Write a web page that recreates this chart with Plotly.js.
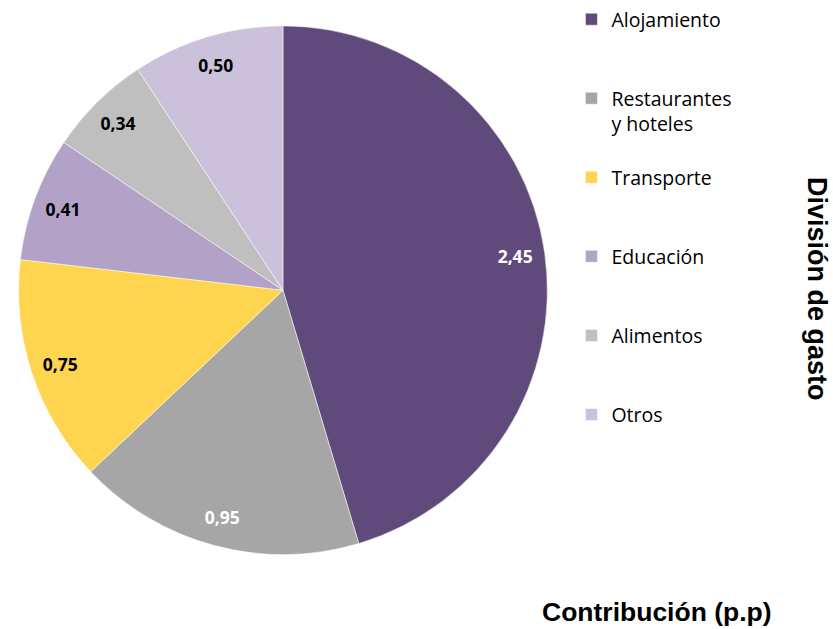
<!DOCTYPE html>
<html><head><meta charset="utf-8">
<script src="https://cdn.plot.ly/plotly-3.0.1.min.js"></script>
<style>html,body{margin:0;padding:0;background:#fff}#chart{width:833px;height:629px}</style>
</head><body><div id="chart"></div>
<script>
const categories = ["Alojamiento", "Restaurantes<br>y hoteles", "Transporte", "Educación", "Alimentos", "Otros"];
const values = [2.45, 0.95, 0.75, 0.41, 0.34, 0.50];
const valueLabels = ["2,45", "0,95", "0,75", "0,41", "0,34", "0,50"];
const colors = ["#604A7B", "#A6A6A6", "#FFD44F", "#B3A2C7", "#BFBFBF", "#CCC1DA"];
const labelColors = ["#FFFFFF", "#FFFFFF", "#000000", "#000000", "#000000", "#000000"];

// pad legend entries so they are evenly spaced
const legendLabels = categories.map(c => {
  const n = c.split("<br>").length;
  let s = c;
  for (let i = n; i < 3; i++) s += "<br> ";
  return s;
});

const pieDomain = {x: [0.0204, 0.659], y: [0.119, 0.965]};

const mainPie = {
  type: "pie",
  labels: legendLabels,
  values: values,
  textinfo: "none",
  marker: {colors: colors, line: {color: "#ffffff", width: 0.5}},
  sort: false,
  direction: "clockwise",
  rotation: 0,
  domain: pieDomain,
  hoverinfo: "none"
};

// transparent ring on top that carries the data labels near the rim
const labelRing = {
  type: "pie",
  labels: categories.map(c => "lbl_" + c),
  values: values,
  text: valueLabels,
  textinfo: "text",
  textposition: "inside",
  insidetextorientation: "horizontal",
  textfont: {family: "Open Sans", size: 17.5, color: labelColors, weight: "bold"},
  marker: {colors: values.map(() => "rgba(0,0,0,0)"), line: {width: 0}},
  hole: 0.775,
  sort: false,
  direction: "clockwise",
  rotation: 0,
  domain: pieDomain,
  showlegend: false,
  hoverinfo: "none"
};

const layout = {
  width: 833, height: 629,
  margin: {l: 0, r: 0, t: 0, b: 0},
  paper_bgcolor: "#ffffff",
  showlegend: true,
  legend: {
    x: 0.686, y: 1.007, xanchor: "left", yanchor: "top",
    valign: "top",
    maxheight: 1,
    font: {family: "Open Sans", size: 19.5, color: "#000000"},
    itemwidth: 30
  },
  annotations: [
    {text: "<b>División de gasto</b>", xref: "paper", yref: "paper",
     x: 0.981, y: 0.5437, xanchor: "center", yanchor: "middle",
     textangle: 90, showarrow: false,
     font: {family: "Liberation Sans", size: 27, color: "#000000"}},
    {text: "<b>Contribución (p.p)</b>", xref: "paper", yref: "paper",
     x: 0.789, y: 0.027, xanchor: "center", yanchor: "middle",
     showarrow: false,
     font: {family: "Liberation Sans", size: 26.5, color: "#000000"}}
  ]
};

Plotly.newPlot("chart", [mainPie, labelRing], layout, {displayModeBar: false, staticPlot: true});
</script></body></html>
